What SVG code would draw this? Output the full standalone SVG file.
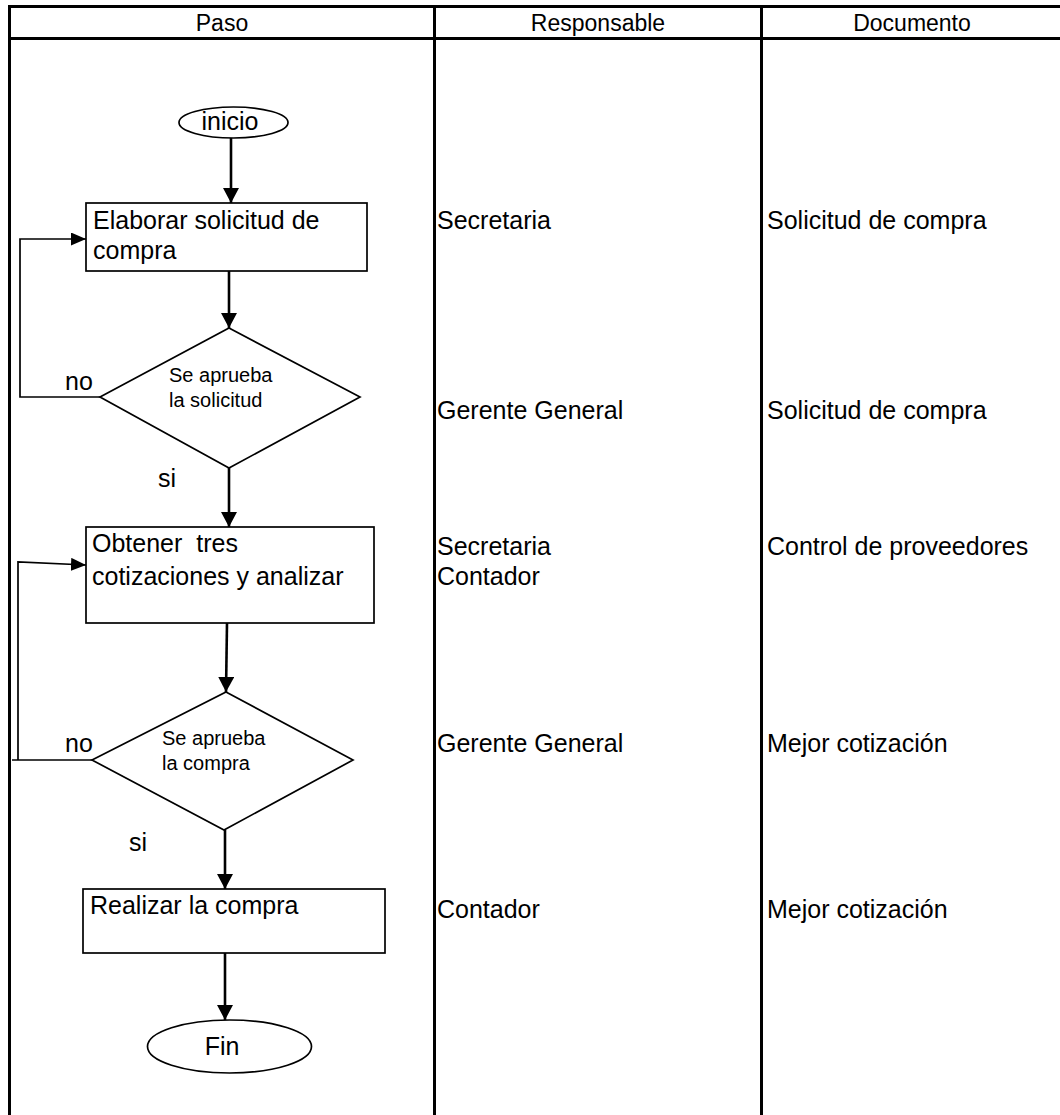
<svg xmlns="http://www.w3.org/2000/svg" width="1060" height="1115" viewBox="0 0 1060 1115">
<style>
text{font-family:"Liberation Sans",Arial,sans-serif;fill:#000}
.t{font-size:25px}
.s{font-size:20px}
.h{font-size:23px;text-anchor:middle}
.grid{stroke:#000;stroke-width:3;fill:none}
.shape{fill:#fff;stroke:#000;stroke-width:1.7}
.c{fill:none;stroke:#000;stroke-width:2.6}
.l{fill:none;stroke:#000;stroke-width:1.7}
</style>
<defs>
<marker id="ah" markerWidth="15" markerHeight="16" refX="15" refY="8" orient="auto" markerUnits="userSpaceOnUse" viewBox="0 0 15 16">
<path d="M0,0 L15,8 L0,16 z" fill="#000"/>
</marker>
<marker id="ah2" markerWidth="15" markerHeight="13" refX="15" refY="6.5" orient="auto" markerUnits="userSpaceOnUse" viewBox="0 0 15 13">
<path d="M0,0 L15,6.5 L0,13 z" fill="#000"/>
</marker>
</defs>
<rect width="1060" height="1115" fill="#fff"/>
<g id="table">
<line class="grid" x1="8" y1="6.5" x2="1060" y2="6.5"/>
<line class="grid" x1="8" y1="38.5" x2="1060" y2="38.5"/>
<line class="grid" x1="9.5" y1="5" x2="9.5" y2="1115"/>
<line class="grid" x1="434.5" y1="5" x2="434.5" y2="1115"/>
<line class="grid" x1="761.5" y1="5" x2="761.5" y2="1115"/>
<text class="h" x="222" y="31">Paso</text>
<text class="h" x="598" y="31">Responsable</text>
<text class="h" x="912" y="31">Documento</text>
</g>
<g id="connectors">
<line class="c" x1="231" y1="138" x2="231" y2="203" marker-end="url(#ah)"/>
<polyline class="l" points="100,397 20,397 20,239 86,239" marker-end="url(#ah2)"/>
<line class="c" x1="229" y1="271" x2="229" y2="328" marker-end="url(#ah)"/>
<line class="c" x1="229" y1="468" x2="229" y2="527" marker-end="url(#ah)"/>
<polyline class="l" points="92,760 12,760"/>
<polyline class="l" points="18,760 18,562 86,565" marker-end="url(#ah2)"/>
<line class="c" x1="227" y1="623" x2="226" y2="692" marker-end="url(#ah)"/>
<line class="c" x1="225" y1="830" x2="225" y2="889" marker-end="url(#ah)"/>
<line class="c" x1="225" y1="953" x2="225" y2="1020" marker-end="url(#ah)"/>
<text class="t" x="65" y="390">no</text>
<text class="t" x="158" y="487">si</text>
<text class="t" x="65" y="752">no</text>
<text class="t" x="129" y="851">si</text>
</g>
<g id="inicio">
<ellipse class="shape" cx="233.5" cy="122.5" rx="54.5" ry="15.5"/>
<text class="t" x="230" y="130" text-anchor="middle">inicio</text>
</g>
<g id="elaborar">
<rect class="shape" x="86" y="203" width="281" height="68"/>
<text class="t" x="93" y="229">Elaborar solicitud de</text>
<text class="t" x="93" y="259">compra</text>
</g>
<g id="decision1">
<polygon class="shape" points="229,328 360,397 229,468 100,397"/>
<text class="s" x="169" y="382">Se aprueba</text>
<text class="s" x="169" y="407">la solicitud</text>
</g>
<g id="obtener">
<rect class="shape" x="86" y="527" width="288" height="96"/>
<text class="t" x="92" y="552" xml:space="preserve">Obtener  tres</text>
<text class="t" x="92" y="585">cotizaciones y analizar</text>
</g>
<g id="decision2">
<polygon class="shape" points="226,692 353,760 224,830 92,760"/>
<text class="s" x="162" y="745">Se aprueba</text>
<text class="s" x="162" y="770">la compra</text>
</g>
<g id="realizar">
<rect class="shape" x="83" y="889" width="302" height="64"/>
<text class="t" x="90" y="914">Realizar la compra</text>
</g>
<g id="fin">
<ellipse class="shape" cx="229.5" cy="1046.5" rx="82" ry="26.5"/>
<text class="t" x="222" y="1055" text-anchor="middle">Fin</text>
</g>
<g id="responsable">
<text class="t" x="437" y="229">Secretaria</text>
<text class="t" x="437" y="419">Gerente General</text>
<text class="t" x="437" y="555">Secretaria</text>
<text class="t" x="437" y="585">Contador</text>
<text class="t" x="437" y="752">Gerente General</text>
<text class="t" x="437" y="918">Contador</text>
</g>
<g id="documento">
<text class="t" x="767" y="229">Solicitud de compra</text>
<text class="t" x="767" y="419">Solicitud de compra</text>
<text class="t" x="767" y="555">Control de proveedores</text>
<text class="t" x="767" y="752">Mejor cotización</text>
<text class="t" x="767" y="918">Mejor cotización</text>
</g>
</svg>
